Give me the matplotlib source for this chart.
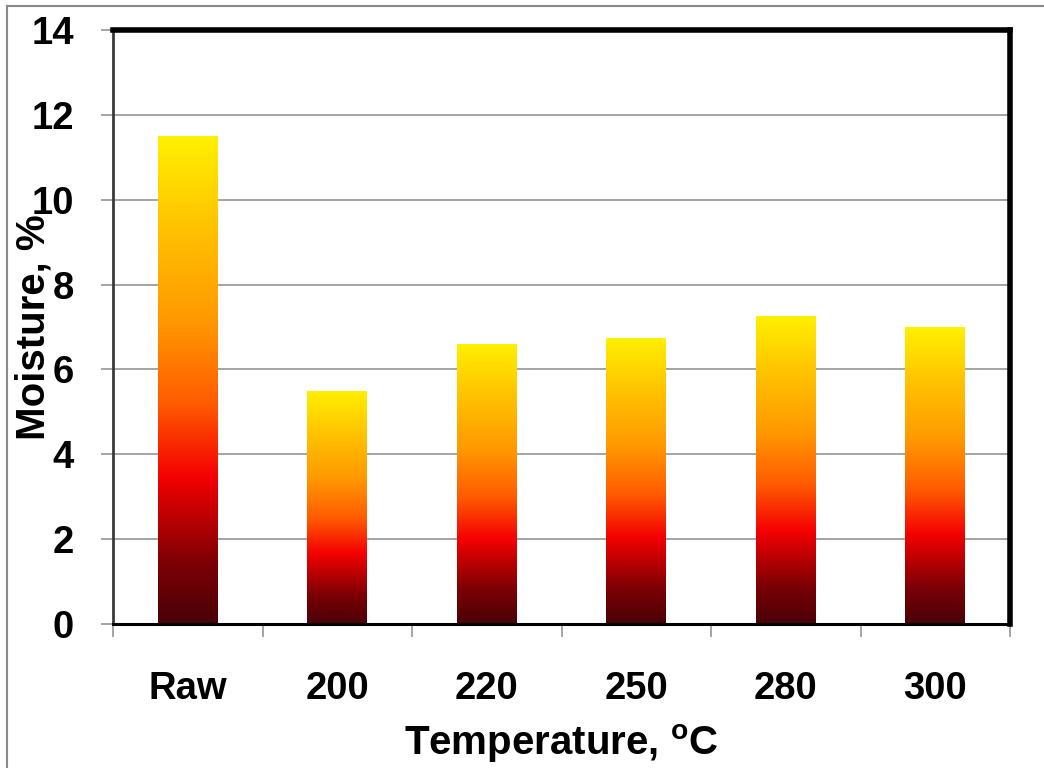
import numpy as np
import matplotlib
matplotlib.use("Agg")
import matplotlib.pyplot as plt
from matplotlib.colors import LinearSegmentedColormap
from matplotlib.lines import Line2D

# Moisture content of samples, raw and torrefied at several temperatures
categories = ["Raw", "200", "220", "250", "280", "300"]
moisture = [11.5, 5.5, 6.6, 6.75, 7.27, 7.0]

y_ticks = [0, 2, 4, 6, 8, 10, 12, 14]

plt.rcParams["font.family"] = ["Liberation Sans", "DejaVu Sans"]
plt.rcParams["font.weight"] = "bold"

fig = plt.figure(figsize=(10.44, 7.68), dpi=100, facecolor="white")
ax = fig.add_axes([113 / 1044, 1 - 624 / 768, 897 / 1044, 594 / 768])

# Dark maroon -> red -> orange -> yellow fill, stretched over each bar
fire = LinearSegmentedColormap.from_list(
    "fire",
    [(0.0, "#4a0008"), (0.12, "#7a0005"), (0.3, "#f40000"),
     (0.45, "#ff5a00"), (0.62, "#ff9800"), (0.82, "#ffc400"), (1.0, "#fff000")],
)
grad = np.linspace(0, 1, 256).reshape(-1, 1)

x = np.arange(len(categories))
bars = ax.bar(x, moisture, width=0.4, color="none", edgecolor="none", zorder=3)
for b in bars:
    x0, w, h = b.get_x(), b.get_width(), b.get_height()
    im = ax.imshow(grad, cmap=fire, origin="lower", aspect="auto",
                   extent=(x0, x0 + w, 0, h), zorder=3, interpolation="bilinear")
    im.set_clip_path(b)

ax.set_xlim(-0.5, len(categories) - 0.5)
ax.set_ylim(0, 14)
ax.set_yticks(y_ticks)
ax.set_yticklabels([str(t) for t in y_ticks])
ax.yaxis.grid(True, color="#8c8c8c", linewidth=1.1, zorder=0)
ax.set_axisbelow(True)

ax.set_xticks(x)
ax.set_xticklabels(categories)
ax.set_xticks(np.arange(-0.5, len(categories)), minor=True)
ax.tick_params(axis="x", which="major", length=0, pad=34, labelsize=27.5)
ax.tick_params(axis="x", which="minor", length=9, width=1.1, color="#8c8c8c",
               direction="out")
ax.tick_params(axis="y", length=9, width=1.1, color="#8c8c8c", direction="out",
               pad=19, labelsize=27.5)

for side, lw, col in [("top", 4.0, "black"), ("right", 4.0, "black"),
                      ("bottom", 2.2, "black"), ("left", 2.0, "#3a3a3a")]:
    ax.spines[side].set_linewidth(lw)
    ax.spines[side].set_color(col)
    ax.spines[side].set_zorder(5)

ax.set_ylabel("Moisture, %", fontsize=29, fontweight="bold")
ax.yaxis.set_label_coords(-0.068, 0.5)
ax.set_xlabel("Temperature, $^{\\mathregular{o}}$C", fontsize=29, fontweight="bold")
ax.xaxis.set_label_coords(0.5, -0.165)
ax.xaxis.label.set_va("top")

# Thin grey frame along the top and left of the figure
fig.add_artist(Line2D([7 / 1044, 7 / 1044], [0, 1 - 6 / 768], transform=fig.transFigure,
                      color="#8a8a8a", linewidth=1.5))
fig.add_artist(Line2D([7 / 1044, 1], [1 - 6 / 768, 1 - 6 / 768], transform=fig.transFigure,
                      color="#8a8a8a", linewidth=1.5))

fig.savefig("out.png", dpi=100, facecolor="white")
